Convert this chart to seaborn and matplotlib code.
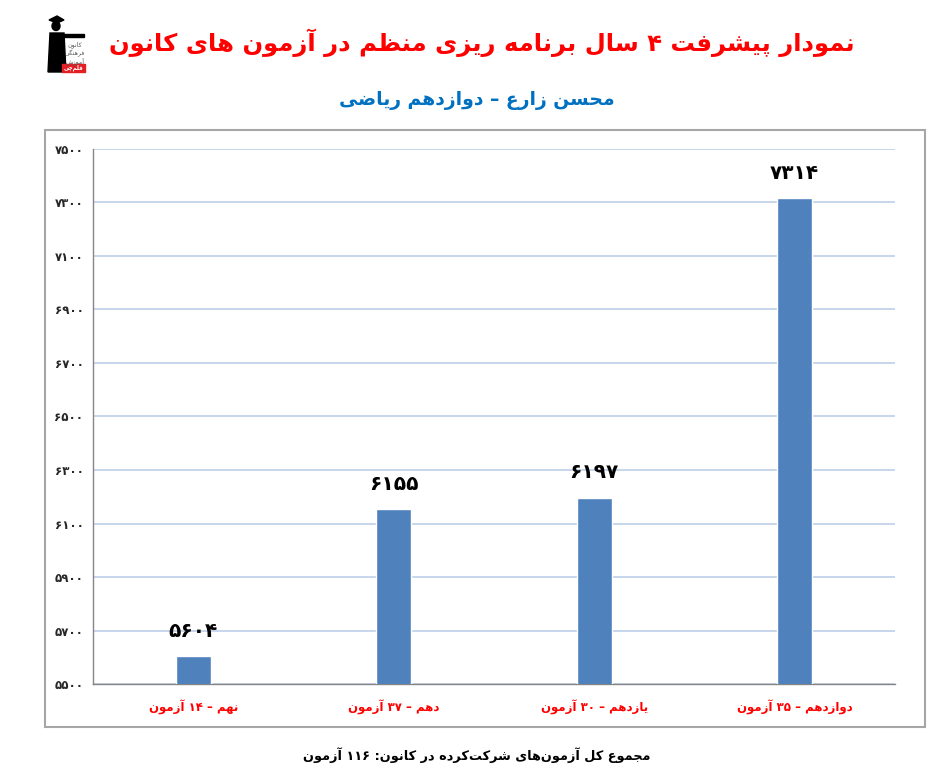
import re
import matplotlib
matplotlib.use("Agg")
import matplotlib.pyplot as plt
from matplotlib.patches import Rectangle, Ellipse, Polygon
from matplotlib.ticker import FixedLocator, FuncFormatter
import seaborn as sns
import pandas as pd

# chart data
grades = ["نهم", "دهم", "یازدهم", "دوازدهم"]
exam_counts = [14, 37, 30, 35]
scores = [5604, 6155, 6197, 7314]
y_ticks = [5500, 5700, 5900, 6100, 6300, 6500, 6700, 6900, 7100, 7300, 7500]
total_exams = 116

title_text = "نمودار پیشرفت ۴ سال برنامه ریزی منظم در آزمون های کانون"
subtitle_text = "محسن زارع – دوازدهم ریاضی"
footer_text = "مجموع کل آزمون‌های شرکت‌کرده در کانون: {} آزمون"
logo_lines = ["کانون", "فرهنگی", "آموزش"]
logo_tag = "قلم‌چی"

# (isolated, final, initial, medial); None = letter does not join forward
FORMS = {
    "ا": ("\uFE8D", "\uFE8E", None, None),
    "آ": ("\uFE81", "\uFE82", None, None),
    "ب": ("\uFE8F", "\uFE90", "\uFE91", "\uFE92"),
    "پ": ("\uFB56", "\uFB57", "\uFB58", "\uFB59"),
    "ت": ("\uFE95", "\uFE96", "\uFE97", "\uFE98"),
    "ج": ("\uFE9D", "\uFE9E", "\uFE9F", "\uFEA0"),
    "چ": ("\uFB7A", "\uFB7B", "\uFB7C", "\uFB7D"),
    "ح": ("\uFEA1", "\uFEA2", "\uFEA3", "\uFEA4"),
    "د": ("\uFEA9", "\uFEAA", None, None),
    "ر": ("\uFEAD", "\uFEAE", None, None),
    "ز": ("\uFEAF", "\uFEB0", None, None),
    "س": ("\uFEB1", "\uFEB2", "\uFEB3", "\uFEB4"),
    "ش": ("\uFEB5", "\uFEB6", "\uFEB7", "\uFEB8"),
    "ض": ("\uFEBD", "\uFEBE", "\uFEBF", "\uFEC0"),
    "ظ": ("\uFEC5", "\uFEC6", "\uFEC7", "\uFEC8"),
    "ع": ("\uFEC9", "\uFECA", "\uFECB", "\uFECC"),
    "ف": ("\uFED1", "\uFED2", "\uFED3", "\uFED4"),
    "ق": ("\uFED5", "\uFED6", "\uFED7", "\uFED8"),
    "ک": ("\uFB8E", "\uFB8F", "\uFB90", "\uFB91"),
    "گ": ("\uFB92", "\uFB93", "\uFB94", "\uFB95"),
    "ل": ("\uFEDD", "\uFEDE", "\uFEDF", "\uFEE0"),
    "م": ("\uFEE1", "\uFEE2", "\uFEE3", "\uFEE4"),
    "ن": ("\uFEE5", "\uFEE6", "\uFEE7", "\uFEE8"),
    "ه": ("\uFEE9", "\uFEEA", "\uFEEB", "\uFEEC"),
    "و": ("\uFEED", "\uFEEE", None, None),
    "ی": ("\uFBFC", "\uFBFD", "\uFBFE", "\uFBFF"),
}

FA_DIGITS = str.maketrans("0123456789", "۰۱۲۳۴۵۶۷۸۹")


def fa_num(v):
    return str(v).translate(FA_DIGITS)


def shape(text):
    # join letters into presentation forms, then lay out right to left
    out = []
    for i, c in enumerate(text):
        if c not in FORMS:
            out.append(c)
            continue
        prev = text[i - 1] if i > 0 else None
        nxt = text[i + 1] if i < len(text) - 1 else None
        jp = prev in FORMS and FORMS[prev][2] is not None
        jn = FORMS[c][2] is not None and nxt in FORMS
        iso, fin, ini, med = FORMS[c]
        if jp and jn:
            out.append(med)
        elif jp:
            out.append(fin)
        elif jn:
            out.append(ini)
        else:
            out.append(iso)
    s = "".join(ch for ch in out if ch != "\u200c")
    tokens = re.findall(r"[0-9۰-۹]+|.", s)
    return "".join(reversed(tokens))


labels = [shape("{} – {} آزمون".format(g, fa_num(n))) for g, n in zip(grades, exam_counts)]
df = pd.DataFrame({"label": labels, "score": scores})

sns.set_style("white")
plt.rcParams["font.family"] = ["DejaVu Sans"]

W, H = 950, 782
fig = plt.figure(figsize=(9.5, 7.82), dpi=100)
ax = fig.add_axes([0.098, 0.125, 0.844, 0.685])

sns.barplot(data=df, x="label", y="score", color="#4F81BD", width=0.175,
            saturation=1, ax=ax, zorder=3)

ax.set_ylim(5500, 7500)
ax.set_xlim(-0.5, 3.5)
ax.yaxis.set_major_locator(FixedLocator(y_ticks))
ax.yaxis.set_major_formatter(FuncFormatter(lambda v, p: fa_num(int(v))))
ax.grid(axis="y", color="#C3D3E9", linewidth=1.3, zorder=0)
ax.set_xlabel("")
ax.set_ylabel("")

for side in ["top", "right"]:
    ax.spines[side].set_visible(False)
for side in ["left", "bottom"]:
    ax.spines[side].set_color("#868686")
    ax.spines[side].set_linewidth(1.0)

ax.tick_params(axis="y", length=4, width=1, color="#868686", labelsize=8.5, pad=3)
for t in ax.get_yticklabels():
    t.set_fontweight("bold")
ax.set_xticks([-0.5, 0.5, 1.5, 2.5, 3.5], minor=True)
ax.tick_params(axis="x", which="minor", length=5, color="#868686", direction="out")
ax.tick_params(axis="x", which="major", length=0, labelsize=8.5, pad=11,
               labelcolor="#FF0000")
for t in ax.get_xticklabels():
    t.set_fontweight("bold")

ax.bar_label(ax.containers[0], labels=[fa_num(s) for s in scores], padding=11,
             fontsize=14.5, fontweight="bold", color="black")

# outer chart frame
fig.patches.append(Rectangle((45 / W, 1 - 727 / H), 880 / W, 597 / H, transform=fig.transFigure,
                             fill=False, edgecolor="#A6A6A6", linewidth=1.5))

# small logo, top left
def px(x, y):
    return (x / W, 1 - y / H)

fig.patches.append(Polygon([px(50, 33), px(64, 33), px(66, 72), px(48, 72)],
                           closed=True, transform=fig.transFigure, color="black"))
fig.patches.append(Ellipse(px(56, 26), 8 / W, 9 / H, transform=fig.transFigure, color="black"))
fig.patches.append(Polygon([px(49, 20), px(57, 16), px(64, 20), px(57, 23)],
                           closed=True, transform=fig.transFigure, color="black"))
fig.patches.append(Rectangle(px(60, 37), 24 / W, 3 / H, transform=fig.transFigure, color="black"))
fig.patches.append(Rectangle(px(62, 72), 23 / W, 8 / H, transform=fig.transFigure, color="#E31E24"))
for k, line in enumerate(logo_lines):
    fig.text(75 / W, 1 - (45 + 8 * k) / H, shape(line), ha="center", va="center",
             fontsize=4.5, color="#555555")
fig.text(73.5 / W, 1 - 68 / H, shape(logo_tag), ha="center", va="center",
         fontsize=4, color="white", fontweight="bold")

fig.text(0.507, 0.946, shape(title_text), ha="center", va="center",
         fontsize=17.5, fontweight="bold", color="#FF0000")
fig.text(0.502, 0.872, shape(subtitle_text), ha="center", va="center",
         fontsize=13.5, fontweight="bold", color="#0070C0")
fig.text(0.502, 0.035, shape(footer_text.format(fa_num(total_exams))), ha="center",
         va="center", fontsize=9.3, fontweight="bold", color="black")

fig.savefig("out.png", dpi=100)
